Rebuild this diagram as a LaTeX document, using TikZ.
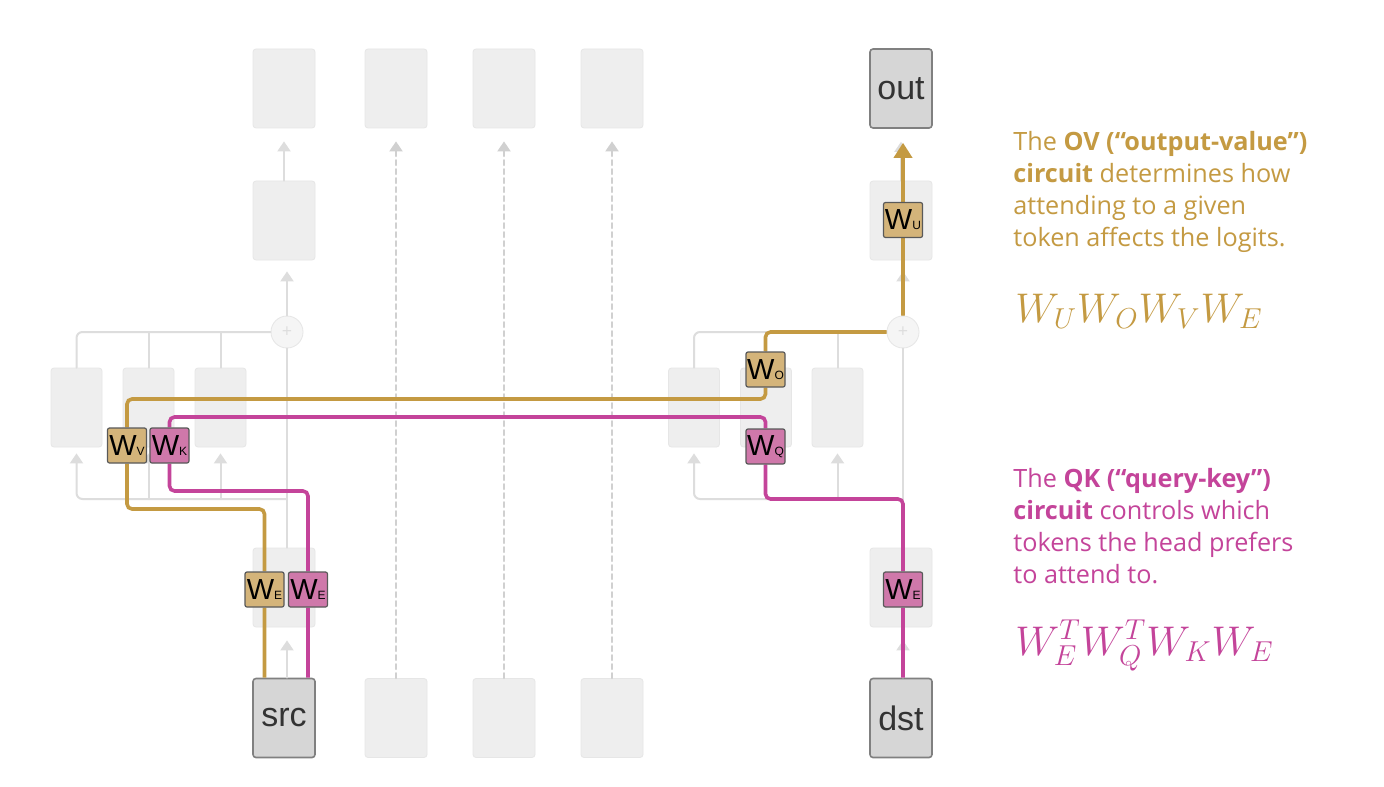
\documentclass[tikz,border=0pt]{standalone}
\usepackage{fontspec}
\setmainfont{Open Sans}
\newfontfamily\boxfont{Liberation Sans}
\usetikzlibrary{arrows.meta}
\definecolor{ovgold}{HTML}{C49A42}
\definecolor{ovfill}{HTML}{D4B47A}
\definecolor{qkpink}{HTML}{C4449A}
\definecolor{qkfill}{HTML}{CF78AA}
\definecolor{linegrey}{HTML}{DDDDDD}
\definecolor{dashgrey}{HTML}{D0D0D0}
\definecolor{boxgrey}{HTML}{EEEEEE}
\definecolor{boxedge}{HTML}{E6E6E6}
\definecolor{tokgrey}{HTML}{D6D6D6}
\definecolor{tokedge}{HTML}{808080}
\pgfdeclarelayer{wires}
\pgfdeclarelayer{top}
\pgfsetlayers{main,wires,top}
\newcommand\wlab[1]{{\fontsize{14.5}{14.5}\selectfont W}{\fontsize{6}{6}\selectfont #1}}
\tikzset{
  ghost/.style={draw=boxedge,fill=boxgrey,rounded corners=1.5pt,minimum width=31pt,minimum height=39.5pt,inner sep=0pt},
  head/.style={ghost,minimum width=25.5pt},
  tok/.style={ghost,draw=tokedge,fill=tokgrey,line width=0.8pt,text=black!80,font=\boxfont\fontsize{17}{17}\selectfont},
  gline/.style={draw=linegrey,line width=1pt},
  garrow/.style={gline,-{Triangle[width=6.5pt,length=5pt]}},
  wbox/.style={draw=black!65,rounded corners=1pt,minimum width=19.5pt,minimum height=17.5pt,inner sep=0pt,line width=0.6pt,font=\boxfont},
  ovbox/.style={wbox,fill=ovfill},
  qkbox/.style={wbox,fill=qkfill},
  ovline/.style={draw=ovgold,line width=1.8pt,rounded corners=2.5pt},
  qkline/.style={draw=qkpink,line width=1.8pt,rounded corners=2.5pt},
  note/.style={anchor=north west,inner sep=0pt,align=left,font=\fontsize{12.6}{16}\selectfont},
  formula/.style={anchor=base west,inner sep=0pt,font=\fontsize{20.5}{20.5}\selectfont}
}
\begin{document}
\begin{tikzpicture}[x=0.5pt,y=-0.5pt,line join=round,line cap=round]
	\fill[white] (0,0) rectangle (1384,786);
	\useasboundingbox (0,0) rectangle (1384,786);
	% token columns
	\foreach \x [count=\i] in {284,396,504,612} \node[ghost] (top\i) at (\x,88.5) {};
	\node[tok] (out) at (901,88.5) {out};
	\node[ghost] (mlpL) at (284,220.5) {};
	\node[ghost] (mlpR) at (901,220.5) {};
	\node[ghost] (embL) at (284,587.5) {};
	\node[ghost] (embR) at (901,587.5) {};
	\node[tok] (src) at (284,718) {src};
	\foreach \x [count=\i] in {396,504,612} \node[ghost] (tok\i) at (\x,718) {};
	\node[tok] (dst) at (901,718) {dst};
	\foreach \x [count=\i] in {76.5,148.5,220.5} \node[head] (hL\i) at (\x,407.5) {};
	\foreach \x [count=\i] in {694,766,837.5} \node[head] (hR\i) at (\x,407.5) {};
	\node[circle,draw=boxedge,fill=boxgrey!60,minimum size=16pt,inner sep=0pt,text=linegrey,font=\small] (addL) at (287,332) {+};
	\node[circle,draw=boxedge,fill=boxgrey!60,minimum size=16pt,inner sep=0pt,text=linegrey,font=\small] (addR) at (903,332) {+};
	\coordinate (splitL) at (287,499);
	\coordinate (splitR) at (903,499);
	% grey arrows
	\draw[garrow,shorten >=6.5pt] (mlpL.north) -- (top1.south);
	\draw[garrow,shorten >=6.5pt] (mlpR.north) -- (out.south);
	\foreach \i [evaluate=\i as \j using int(\i+1)] in {1,2,3}
		\draw[garrow,draw=dashgrey,dash pattern=on 2.5pt off 2pt,shorten >=6.5pt] (tok\i.north) -- (top\j.south);
	\draw[garrow,shorten >=5.5pt] (addL.north) -- (addL |- mlpL.south);
	\draw[garrow,shorten >=5.5pt] (addR.north) -- (addR |- mlpR.south);
	\draw[garrow,shorten >=6.5pt] (src.north -| addL) -- (addL |- embL.south);
	\draw[garrow,shorten >=6.5pt] (dst.north -| addR) -- (addR |- embR.south);
	\draw[gline] (addL |- embL.north) -- (addL.south);
	\draw[gline] (addR |- embR.north) -- (addR.south);
	\draw[gline,rounded corners=3pt] (hL1.north) |- (addL.west);
	\draw[gline,rounded corners=3pt] (hR1.north) |- (addR.west);
	\foreach \s in {L,R} {
		\draw[gline] (h\s2.north) -- (h\s2.north |- add\s);
		\draw[gline] (h\s3.north) -- (h\s3.north |- add\s);
		\draw[garrow,rounded corners=3pt,shorten >=3pt] (split\s) -| (h\s1.south);
		\draw[garrow,shorten >=3pt] (h\s2.south |- split\s) -- (h\s2.south);
		\draw[garrow,shorten >=3pt] (h\s3.south |- split\s) -- (h\s3.south);
	}
	% weight boxes
	\begin{pgfonlayer}{top}
		\node[ovbox] (WEo) at (264.5,589.5) {\wlab{E}};
		\node[qkbox] (WEk) at (308,589.5) {\wlab{E}};
		\node[ovbox] (WV) at (127,445.5) {\wlab{V}};
		\node[qkbox] (WK) at (169.5,445.5) {\wlab{K}};
		\node[ovbox] (WO) at (765.5,369.5) {\wlab{O}};
		\node[qkbox] (WQ) at (765.5,446.5) {\wlab{Q}};
		\node[ovbox] (WU) at (903,220) {\wlab{U}};
		\node[qkbox] (WEq) at (903,589.5) {\wlab{E}};
	\end{pgfonlayer}
	\coordinate (ovlow) at (0,509);
	\coordinate (ovhigh) at (0,399);
	\coordinate (qklow) at (0,491);
	\coordinate (qkhigh) at (0,417);
	\begin{pgfonlayer}{wires}
		\draw[ovline,-{Triangle[width=9pt,length=7.5pt]},shorten >=7pt] (src.north -| WEo) -- (WEo) |- (WV |- ovlow) -- (WV) -- (WV |- ovhigh) -| (WO) |- (addR) -- (WU) -- (WU |- out.south);
		\draw[qkline] (src.north -| WEk) -- (WEk) |- (WK |- qklow) -- (WK) -- (WK |- qkhigh) -| (WQ) |- (splitR) -- (WEq) -- (dst.north -| WEq);
	\end{pgfonlayer}
	% notes
	\node[note,text=ovgold] (ovnote) at (1013,131) {The \textbf{OV (“output-value”)}\\\textbf{circuit} determines how\\attending to a given\\token affects the logits.};
	\node[formula,text=ovgold] (ovmath) at (1015,322) {$W_UW_OW_VW_E$};
	\node[note,text=qkpink] (qknote) at (1013,468) {The \textbf{QK (“query-key”)}\\\textbf{circuit} controls which\\tokens the head prefers\\to attend to.};
	\node[formula,text=qkpink] (qkmath) at (1015,655) {$W_E^TW_Q^TW_KW_E$};
\end{tikzpicture}
\end{document}
